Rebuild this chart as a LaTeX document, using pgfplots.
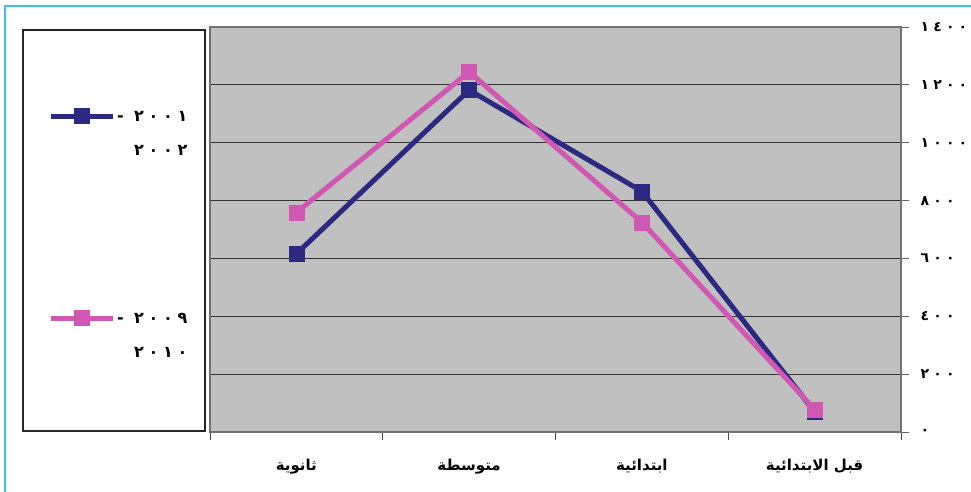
\documentclass[border=0pt]{standalone}
\usepackage{pgfplots}
\pgfplotsset{compat=1.18}
\usepackage{fontspec}
\setmainfont{Liberation Sans}
\newfontfamily\arabicfont[Script=Arabic]{DejaVu Sans}
\newfontfamily\digitfont[Script=Arabic, LetterSpace=30]{DejaVu Sans}
\TeXXeTstate=1
\definecolor{navyline}{RGB}{43,42,128}
\definecolor{pinkline}{RGB}{208,88,178}
\definecolor{plotbg}{RGB}{192,192,192}
\definecolor{framecol}{RGB}{60,190,240}
\begin{document}
\begin{tikzpicture}[x=1pt,y=1pt]
\useasboundingbox (0,0) rectangle (971,-491);
% outer frame and legend box
\draw[framecol, line width=1.2pt] (975,-6) -- (5,-6) -- (5,-495);
\draw[black!85, line width=1.2pt] (23,-30) rectangle (205,-431);
\begin{axis}[
  at={(210pt,-432pt)}, anchor=south west,
  scale only axis, width=691pt, height=405pt,
  xmin=0.5, xmax=4.5, ymin=0, ymax=1400,
  xtick={1,2,3,4},
  xticklabels={{\beginR ثانوية\endR}, {\beginR متوسطة\endR}, {\beginR ابتدائية\endR}, {\beginR قبل الابتدائية\endR}},
  minor xtick={0.5,1.5,2.5,3.5,4.5},
  xtick pos=bottom, ytick pos=right,
  major x tick style={draw=none},
  minor x tick style={black!70, line width=0.8pt},
  ytick={0,200,...,1400},
  yticklabels={٠, ٢٠٠, ٤٠٠, ٦٠٠, ٨٠٠, ١٠٠٠, ١٢٠٠, ١٤٠٠},
  yticklabel pos=right,
  major y tick style={black!60, line width=0.8pt},
  tick align=outside,
  major tick length=8pt, minor tick length=8pt,
  ymajorgrids, grid style={black!80, line width=0.8pt},
  axis background/.style={fill=plotbg},
  axis line style={draw=black!55, line width=1.5pt},
  xticklabel style={font=\arabicfont\bfseries\fontsize{15}{18}\selectfont, yshift=-16pt},
  yticklabel style={font=\digitfont\bfseries\fontsize{14}{16}\selectfont, anchor=west, xshift=8pt},
  legend cell align=right,
  legend style={at={(rel axis cs:-0.025,0.808)}, anchor=north east, draw=none, fill=none,
    row sep=184pt, font=\digitfont\bfseries\fontsize{16}{18}\selectfont},
  legend image code/.code={\draw[mark repeat=2,mark phase=2] plot coordinates {(0pt,0pt) (31pt,0pt) (62pt,0pt)};},
]
\addplot[navyline, line width=5pt, mark=square*, mark size=7.5pt, mark options={line width=0.5pt}]
  coordinates {(1,616) (2,1182) (3,832) (4,70)};
\addlegendentry{\begin{tabular}[t]{@{}r@{}}-\ ٢٠٠١\\[16pt]٢٠٠٢\end{tabular}}
\addplot[pinkline, line width=5pt, mark=square*, mark size=7.5pt, mark options={line width=0.5pt}]
  coordinates {(1,759) (2,1245) (3,725) (4,78)};
\addlegendentry{\begin{tabular}[t]{@{}r@{}}-\ ٢٠٠٩\\[16pt]٢٠١٠\end{tabular}}
\end{axis}
\end{tikzpicture}
\end{document}
